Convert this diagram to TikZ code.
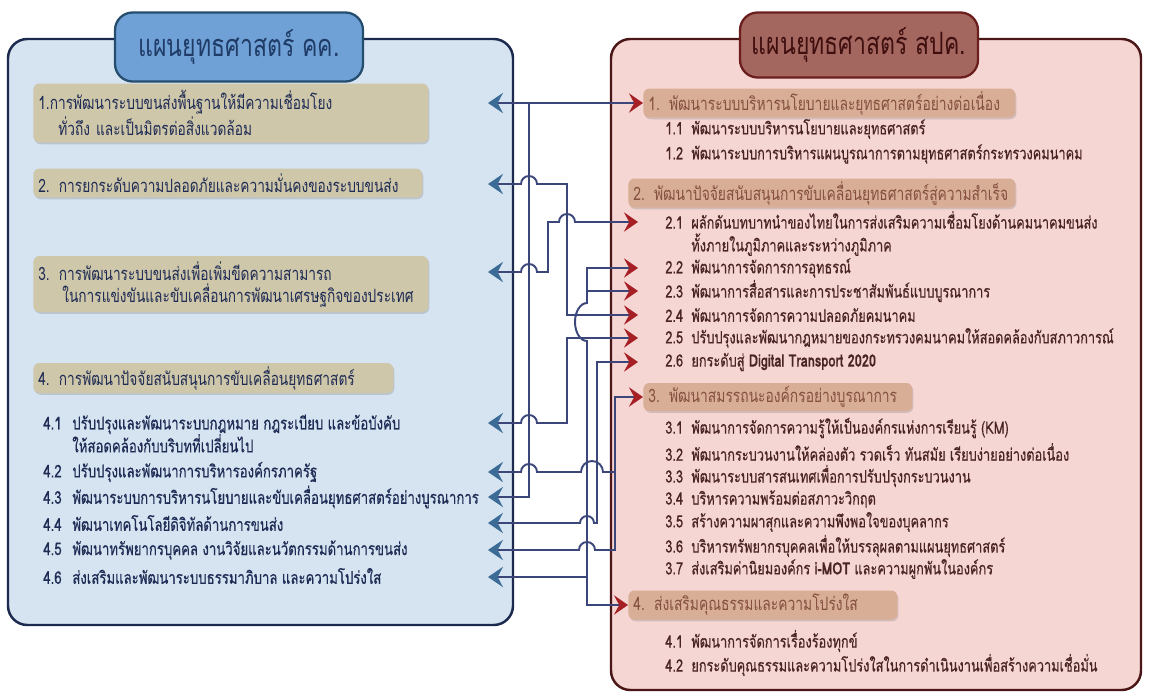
\documentclass[tikz,border=0pt]{standalone}
\usepackage{fontspec}
\setmainfont[Script=Thai, FakeStretch=0.75]{Loma}
\newfontfamily\itemfont[Script=Thai, FakeStretch=0.75, FakeBold=0.5]{Loma}
\usetikzlibrary{arrows.meta, positioning, shadows}
\definecolor{panelblue}{HTML}{D6E4F1}
\definecolor{panelnavy}{HTML}{1B2A4E}
\definecolor{tabblue}{HTML}{6FA0D6}
\definecolor{tabline}{HTML}{254D6E}
\definecolor{tabtext}{HTML}{1F3B66}
\definecolor{boxtan}{HTML}{CFC7A9}
\definecolor{navytext}{HTML}{1E2B55}
\definecolor{panelpink}{HTML}{F6D6D3}
\definecolor{panelmaroon}{HTML}{4A1616}
\definecolor{tabred}{HTML}{A4675F}
\definecolor{tabredline}{HTML}{6B1E1E}
\definecolor{tabredtext}{HTML}{3F0E0E}
\definecolor{boxrose}{HTML}{D8AE97}
\definecolor{rosetext}{HTML}{85503F}
\definecolor{browntext}{HTML}{4A2424}
\definecolor{wire}{HTML}{3B477A}
\definecolor{tipblue}{HTML}{3C6B95}
\definecolor{tipred}{HTML}{A51F24}

\begin{document}
\begin{tikzpicture}[x=0.02cm, y=-0.02cm,
    panel/.style={line width=1.4pt, rounded corners=11pt},
    tab/.style={line width=1.3pt, rounded corners=10pt, font=\fontsize{17.5}{20}\selectfont},
    headbox/.style={rounded corners=3.5pt, anchor=west, inner xsep=0.1cm, inner ysep=0pt,
                    align=left, drop shadow={shadow xshift=0.6pt, shadow yshift=-1pt, opacity=0.3}},
    itemL/.style={anchor=west, inner sep=0pt, align=left, text=navytext, font=\itemfont\fontsize{10}{13}\selectfont},
    itemR/.style={anchor=west, inner sep=0pt, align=left, text=browntext, font=\itemfont\fontsize{9.7}{13}\selectfont},
    conn/.style={line width=1.1pt, draw=wire},
    lh/.tip={Stealth[length=8.5pt, width=11.5pt, inset=3pt, color=tipblue]},
    rh/.tip={Stealth[length=8pt, width=11pt, inset=3pt, color=tipred]}]
  \useasboundingbox (0,0) rectangle (1149,693);

  % Panels
  \draw[panel, draw=panelnavy, fill=panelblue] (8,39) rectangle (513,625);
  \draw[panel, draw=panelmaroon, fill=panelpink] (611,39) rectangle (1141,690);
  \node[tab, draw=tabline, fill=tabblue, text=tabtext, minimum width=4.96cm, minimum height=1.38cm]
    (titleL) at (239,47) {แผนยุทธศาสตร์ คค.};
  \node[tab, draw=tabredline, fill=tabred, text=tabredtext, minimum width=4.76cm, minimum height=1.3cm]
    (titleR) at (859,45) {แผนยุทธศาสตร์ สปค.};

  % Left strategies
  \begin{scope}[every node/.append style={headbox, fill=boxtan, text=navytext, font=\fontsize{10.4}{12.5}\selectfont}]
    \node[text width=7.7cm, minimum height=1.18cm] (L1) at (33,113)
      {1.การพัฒนาระบบขนส่งพื้นฐานให้มีความเชื่อมโยง\\\hspace*{0.4cm}ทั่วถึง และเป็นมิตรต่อสิ่งแวดล้อม};
    \node[text width=7.58cm, minimum height=0.58cm] (L2) at (33,183)
      {2. การยกระดับความปลอดภัยและความมั่นคงของระบบขนส่ง};
    \node[text width=7.7cm, minimum height=1.12cm] (L3) at (33,284)
      {3. การพัฒนาระบบขนส่งเพื่อเพิ่มขีดความสามารถ\\\hspace*{0.48cm}ในการแข่งขันและขับเคลื่อนการพัฒนาเศรษฐกิจของประเทศ};
    \node[text width=7.0cm, minimum height=0.6cm] (L4) at (33,378)
      {4. การพัฒนาปัจจัยสนับสนุนการขับเคลื่อนยุทธศาสตร์};
  \end{scope}
  \node[itemL] (L41) at (43,433.5)
    {\makebox[0.58cm][l]{4.1}ปรับปรุงและพัฒนาระบบกฎหมาย กฎระเบียบ และข้อบังคับ\\\hspace*{0.58cm}ให้สอดคล้องกับบริบทที่เปลี่ยนไป};
  \foreach \n/\y/\txt in {2/472/ปรับปรุงและพัฒนาการบริหารองค์กรภาครัฐ,
                          3/497/พัฒนาระบบการบริหารนโยบายและขับเคลื่อนยุทธศาสตร์อย่างบูรณาการ,
                          4/523/พัฒนาเทคโนโลยีดิจิทัลด้านการขนส่ง,
                          5/550/พัฒนาทรัพยากรบุคคล งานวิจัยและนวัตกรรมด้านการขนส่ง,
                          6/576/ส่งเสริมและพัฒนาระบบธรรมาภิบาล และความโปร่งใส} {
    \node[itemL] (L4\n) at (43,\y) {\makebox[0.58cm][l]{4.\n}\txt};
  }

  % Right strategies
  \begin{scope}[every node/.append style={headbox, fill=boxrose, text=rosetext, font=\fontsize{10.5}{12}\selectfont}]
    \node[text width=7.24cm, minimum height=0.58cm] (R1) at (643,103)
      {1. พัฒนาระบบบริหารนโยบายและยุทธศาสตร์อย่างต่อเนื่อง};
    \node[text width=7.54cm, minimum height=0.58cm] (R2) at (628,193)
      {2. พัฒนาปัจจัยสนับสนุนการขับเคลื่อนยุทธศาสตร์สู่ความสำเร็จ};
    \node[text width=5.18cm, minimum height=0.56cm] (R3) at (643,397)
      {3. พัฒนาสมรรถนะองค์กรอย่างบูรณาการ};
    \node[text width=5.18cm, minimum height=0.58cm] (R4) at (628,605)
      {4. ส่งเสริมคุณธรรมและความโปร่งใส};
  \end{scope}
  \foreach \n/\y/\txt in {1/129/พัฒนาระบบบริหารนโยบายและยุทธศาสตร์,
                          2/154/พัฒนาระบบการบริหารแผนบูรณาการตามยุทธศาสตร์กระทรวงคมนาคม} {
    \node[itemR] (R1\n) at (665,\y) {\makebox[0.52cm][l]{1.\n}\txt};
  }
  \node[itemR] (R21) at (665,233.5)
    {\makebox[0.52cm][l]{2.1}ผลักดันบทบาทนำของไทยในการส่งเสริมความเชื่อมโยงด้านคมนาคมขนส่ง\\\hspace*{0.52cm}ทั้งภายในภูมิภาคและระหว่างภูมิภาค};
  \foreach \n/\y/\txt in {2/268/พัฒนาการจัดการการอุทธรณ์,
                          3/291/พัฒนาการสื่อสารและการประชาสัมพันธ์แบบบูรณาการ,
                          4/315/พัฒนาการจัดการความปลอดภัยคมนาคม,
                          5/338/ปรับปรุงและพัฒนากฎหมายของกระทรวงคมนาคมให้สอดคล้องกับสภาวการณ์,
                          6/362/ยกระดับสู่ \textbf{Digital Transport 2020}} {
    \node[itemR] (R2\n) at (665,\y) {\makebox[0.52cm][l]{2.\n}\txt};
  }
  \foreach \n/\y/\txt in {1/428/พัฒนาการจัดการความรู้ให้เป็นองค์กรแห่งการเรียนรู้ (KM),
                          2/452/พัฒนากระบวนงานให้คล่องตัว รวดเร็ว ทันสมัย เรียบง่ายอย่างต่อเนื่อง,
                          3/476/พัฒนาระบบสารสนเทศเพื่อการปรับปรุงกระบวนงาน,
                          4/499/บริหารความพร้อมต่อสภาวะวิกฤต,
                          5/522/สร้างความผาสุกและความพึงพอใจของบุคลากร,
                          6/546/บริหารทรัพยากรบุคคลเพื่อให้บรรลุผลตามแผนยุทธศาสตร์,
                          7/569/ส่งเสริมค่านิยมองค์กร \textbf{i-MOT} และความผูกพันในองค์กร} {
    \node[itemR] (R3\n) at (665,\y) {\makebox[0.52cm][l]{3.\n}\txt};
  }
  \foreach \n/\y/\txt in {1/641/พัฒนาการจัดการเรื่องร้องทุกข์,
                          2/665/ยกระดับคุณธรรมและความโปร่งใสในการดำเนินงานเพื่อสร้างความเชื่อมั่น} {
    \node[itemR] (R4\n) at (665,\y) {\makebox[0.52cm][l]{4.\n}\txt};
  }

  % Arrow ends and junctions
  \foreach \n/\y in {1/103, 2/184, 3/272, 41/423, 42/472, 43/497, 44/523, 45/550, 46/577}
    \coordinate (tL\n) at (488,\y);
  \foreach \n/\y in {21/222, 22/268, 23/291, 24/315, 25/338, 26/362}
    \coordinate (tR\n) at (638,\y);
  \coordinate (jA) at (529,103);
  \coordinate (jD1) at (587,291);
  \coordinate (jD2) at (587,577);
  \coordinate (jG) at (615,472);

  % Links
  \draw[conn, arrows={lh-rh}] (tL1) -- (R1.west);
  \draw[conn, arrows={-lh}] (jA) |- (tL43);
  \draw[conn, arrows={lh-rh}] (tL2) -- (521,184) arc[start angle=180, end angle=360, radius=8]
    -- (567,184) -- (567,315) -- (tR24);
  \draw[conn, arrows={lh-rh}] (tL3) -- (521,272) arc[start angle=180, end angle=360, radius=8]
    -- (548,272) -- (548,222) -- (559,222) arc[start angle=180, end angle=360, radius=8] -- (tR21);
  \draw[conn, arrows={rh-rh}] (tR22) -- (587,268) -- (587,303)
    arc[start angle=270, end angle=90, x radius=12, y radius=19] -- (587,605) -- (R4.west);
  \draw[conn, arrows={-rh}] (jD1) -- (tR23);
  \draw[conn, arrows={-lh}] (jD2) -- (tL46);
  \draw[conn, arrows={rh-lh}] (tR25) -- (567,338) -- (567,423)
    -- (537,423) arc[start angle=0, end angle=-180, radius=8] -- (tL41);
  \draw[conn, arrows={rh-lh}] (tR26) -- (597,362) -- (597,523)
    -- (594,523) arc[start angle=0, end angle=-180, radius=7] -- (tL44);
  \draw[conn, arrows={rh-lh}] (R3.west) -- (615,397) -- (615,550)
    -- (595,550) arc[start angle=0, end angle=-180, radius=8] -- (tL45);
  \draw[conn, arrows={-lh}] (jG) -- (603,472) arc[start angle=0, end angle=-180, radius=11]
    -- (537,472) arc[start angle=0, end angle=-180, radius=8] -- (tL42);
\end{tikzpicture}
\end{document}
